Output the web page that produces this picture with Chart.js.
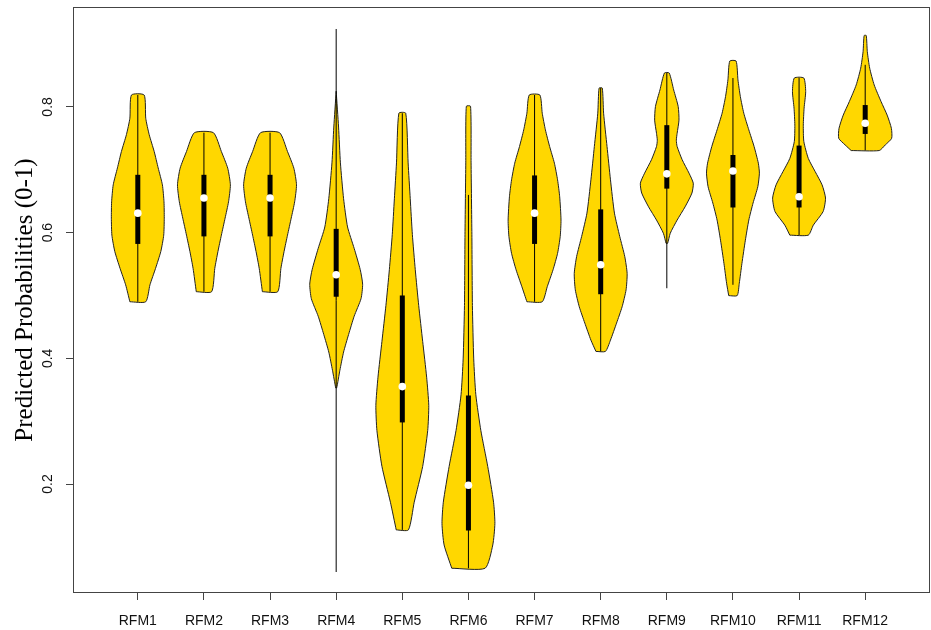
<!DOCTYPE html>
<html><head><meta charset="utf-8">
<script src="https://cdn.jsdelivr.net/npm/chart.js@4.4.1/dist/chart.umd.min.js"></script>
<style>html,body{margin:0;padding:0;background:#fff}#wrap{width:931px;height:630px}</style>
</head><body><div id="wrap"><canvas id="c" width="931" height="630"></canvas></div>
<script>
// ---- Data ----
const categories = ['RFM1','RFM2','RFM3','RFM4','RFM5','RFM6','RFM7','RFM8','RFM9','RFM10','RFM11','RFM12'];
const yTicks = [0.2, 0.4, 0.6, 0.8];

// box-plot summary (lower whisker, Q1, median, Q3, upper whisker)
const whiskerLow  = [0.490, 0.506, 0.506, 0.060, 0.127, 0.066, 0.490, 0.411, 0.5115, 0.517, 0.596, 0.7306];
const q1          = [0.582, 0.594, 0.594, 0.498, 0.298, 0.126, 0.582, 0.502, 0.670, 0.640, 0.640, 0.757];
const medians     = [0.631, 0.655, 0.655, 0.533, 0.355, 0.198, 0.631, 0.549, 0.6935, 0.698, 0.657, 0.774];
const q3          = [0.692, 0.692, 0.692, 0.606, 0.500, 0.341, 0.691, 0.637, 0.771, 0.7235, 0.7385, 0.803];
const whiskerHigh = [0.819, 0.759, 0.759, 0.924, 0.790, 0.660, 0.819, 0.830, 0.854, 0.846, 0.846, 0.867];

// violin density profiles: y levels and relative density (1 = widest)
const lev1  = [0.490,0.517,0.543,0.570,0.596,0.623,0.649,0.676,0.703,0.729,0.756,0.782,0.819];
const den1  = [0.30,0.46,0.67,0.87,0.98,1.00,0.99,0.93,0.77,0.62,0.43,0.30,0.24];
const lev2  = [0.506,0.543,0.570,0.596,0.623,0.649,0.676,0.7025,0.729,0.759];
const den2  = [0.29,0.41,0.53,0.66,0.80,0.93,1.00,0.90,0.66,0.36];
const lev3  = [0.506,0.543,0.570,0.596,0.623,0.649,0.676,0.7025,0.729,0.759];
const den3  = [0.29,0.41,0.53,0.66,0.80,0.93,1.00,0.90,0.66,0.36];
const lev4  = [0.353,0.381,0.410,0.438,0.467,0.495,0.518,0.541,0.575,0.609,0.654,0.711,0.768,0.825];
const den4  = [0.02,0.14,0.28,0.47,0.68,0.94,1.00,0.91,0.68,0.43,0.28,0.16,0.09,0.00];
const lev5  = [0.127,0.171,0.228,0.285,0.325,0.370,0.427,0.484,0.541,0.597,0.654,0.711,0.790];
const den5  = [0.23,0.45,0.77,0.96,1.00,0.92,0.77,0.62,0.49,0.38,0.30,0.22,0.13];
const lev6  = [0.066,0.103,0.137,0.171,0.228,0.285,0.342,0.399,0.484,0.597,0.711,0.801];
const den6  = [0.63,0.92,1.00,0.95,0.73,0.47,0.28,0.20,0.15,0.13,0.10,0.08];
const lev7  = [0.490,0.514,0.541,0.567,0.594,0.620,0.657,0.684,0.7105,0.737,0.7635,0.790,0.819];
const den7  = [0.29,0.48,0.70,0.87,0.97,1.00,0.95,0.87,0.75,0.57,0.41,0.29,0.20];
const lev8  = [0.411,0.429,0.456,0.482,0.509,0.535,0.562,0.594,0.631,0.684,0.737,0.790,0.830];
const den8  = [0.18,0.37,0.60,0.81,0.96,1.00,0.91,0.72,0.52,0.37,0.24,0.11,0.06];
const lev9  = [0.583,0.599,0.620,0.641,0.663,0.6787,0.6946,0.716,0.737,0.747,0.758,0.779,0.8006,0.827,0.854];
const den9  = [0.03,0.13,0.39,0.69,0.95,1.00,0.84,0.58,0.39,0.36,0.39,0.46,0.43,0.26,0.09];
const lev10 = [0.4998,0.5195,0.551,0.588,0.620,0.647,0.673,0.6946,0.7105,0.737,0.7635,0.790,0.8165,0.843,0.873];
const den10 = [0.16,0.24,0.34,0.47,0.60,0.76,0.94,1.00,0.96,0.80,0.60,0.41,0.28,0.19,0.12];
const lev11 = [0.596,0.612,0.6335,0.655,0.676,0.697,0.718,0.745,0.771,0.798,0.8245,0.846];
const den11 = [0.35,0.54,0.91,1.00,0.87,0.61,0.35,0.18,0.16,0.19,0.25,0.18];
const lev12 = [0.7306,0.7396,0.750,0.766,0.787,0.8085,0.835,0.8617,0.888,0.9136];
const den12 = [0.53,0.76,1.00,0.99,0.83,0.60,0.34,0.17,0.08,0.04];

const profiles = [[lev1,den1],[lev2,den2],[lev3,den3],[lev4,den4],[lev5,den5],[lev6,den6],
                  [lev7,den7],[lev8,den8],[lev9,den9],[lev10,den10],[lev11,den11],[lev12,den12]];

// ---- Styling / build ----
const HALF_WIDTH = 0.40;   // max half-width of a violin in category units
const GOLD = '#FFD700';
const datasets = [];
categories.forEach((c, i) => {
  const x = i + 1;
  const [lev, den] = profiles[i];
  const pts = [];
  for (let k = 0; k < lev.length; k++) pts.push({x: x - den[k] * HALF_WIDTH, y: lev[k]});
  for (let k = lev.length - 1; k >= 0; k--) pts.push({x: x + den[k] * HALF_WIDTH, y: lev[k]});
  pts.push({x: pts[0].x, y: pts[0].y});
  datasets.push({label: c, data: pts, showLine: true, fill: 'shape', backgroundColor: GOLD,
    borderColor: '#222', borderWidth: 1, pointRadius: 0, tension: 0.2, order: 4});
  datasets.push({label: c + ' range', data: [{x, y: whiskerLow[i]}, {x, y: whiskerHigh[i]}], showLine: true,
    borderColor: '#000', borderWidth: 1, pointRadius: 0, fill: false, order: 3});
  datasets.push({label: c + ' IQR', data: [{x, y: q1[i]}, {x, y: q3[i]}], showLine: true,
    borderColor: '#000', borderWidth: 5, borderCapStyle: 'butt', pointRadius: 0, fill: false, order: 2});
  datasets.push({label: c + ' median', data: [{x, y: medians[i]}], showLine: false,
    pointRadius: 3.8, pointBackgroundColor: '#fff', pointBorderWidth: 0, borderWidth: 0, order: 1});
});

const framePlugin = {
  id: 'frame',
  afterDraw(chart) {
    const {ctx, chartArea: a} = chart;
    ctx.save();
    ctx.strokeStyle = '#444';
    ctx.lineWidth = 1;
    ctx.strokeRect(Math.round(a.left) + 0.5, Math.round(a.top) + 0.5,
                   Math.round(a.right - a.left) - 1, Math.round(a.bottom - a.top) - 1);
    ctx.restore();
  }
};

new Chart(document.getElementById('c'), {
  type: 'scatter',
  data: { datasets },
  options: {
    responsive: false,
    animation: false,
    events: [],
    layout: { autoPadding: false, padding: { top: 7, right: 1, left: 0, bottom: 0 } },
    plugins: { legend: { display: false }, tooltip: { enabled: false } },
    scales: {
      x: {
        type: 'linear', min: 0.02, max: 12.98,
        afterBuildTicks: s => { s.ticks = categories.map((c, i) => ({ value: i + 1 })); },
        afterFit: s => { s.height = 37; s.paddingLeft = 0; s.paddingRight = 0; },
        ticks: { callback: v => categories[Math.round(v) - 1], autoSkip: false, minRotation: 0, maxRotation: 0,
                 font: { family: 'Liberation Sans', size: 14 }, color: '#111', padding: 13 },
        grid: { drawOnChartArea: false, drawTicks: true, tickLength: 7, color: '#444' },
        border: { display: false }
      },
      y: {
        type: 'linear', min: 0.0266, max: 0.959,
        afterBuildTicks: s => { s.ticks = yTicks.map(v => ({ value: v })); },
        afterFit: s => { s.width = 73; s.paddingTop = 0; s.paddingBottom = 0; },
        ticks: { callback: v => v.toFixed(1), minRotation: 90, maxRotation: 90, crossAlign: 'center',
                 font: { family: 'Liberation Sans', size: 14 }, color: '#111', padding: 8 },
        grid: { drawOnChartArea: false, drawTicks: true, tickLength: 7, color: '#444' },
        border: { display: false },
        title: { display: true, text: 'Predicted Probabilities (0-1)',
                 font: { family: 'Liberation Serif', size: 25 }, color: '#000', padding: { top: 10, bottom: 0 } }
      }
    }
  },
  plugins: [framePlugin]
});
</script>
</body></html>
